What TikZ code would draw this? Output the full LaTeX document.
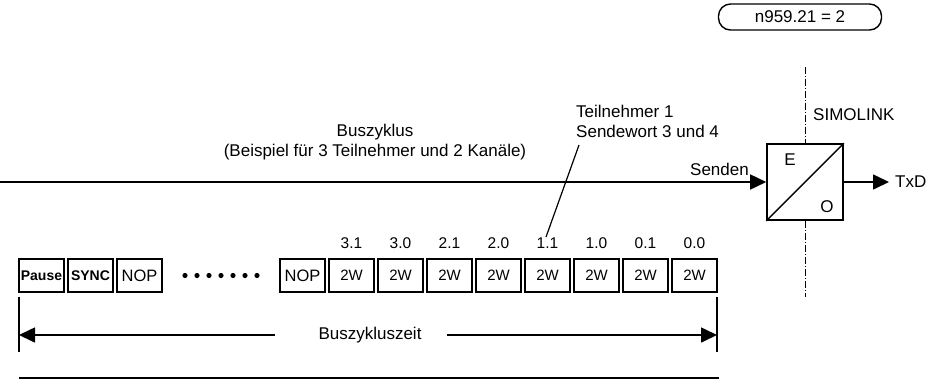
\documentclass[tikz,border=0pt]{standalone}
\usepackage{fontspec}
\setmainfont{Liberation Sans}
\usetikzlibrary{arrows.meta}
\begin{document}
\begin{tikzpicture}[x=1pt,y=-1pt,
  cell/.style={draw, line width=1.5pt, minimum width=45pt, minimum height=33pt, inner sep=0pt, font=\fontsize{15}{18}\selectfont},
  bcell/.style={cell, font=\fontsize{14}{17}\selectfont\bfseries},
  lbl/.style={font=\fontsize{17}{20}\selectfont, inner sep=0pt},
  slbl/.style={font=\fontsize{15.5}{18}\selectfont, inner sep=0pt},
  tip/.style={-{Triangle[length=16pt,width=15pt]}},
  thick line/.style={line width=1.6pt},
  dotted axis/.style={line width=0.8pt, dash pattern=on 7pt off 2pt on 1pt off 2pt}]
\useasboundingbox (0,0) rectangle (933,381);

% parameter box
\node[draw, line width=1.4pt, rounded corners=12pt, minimum width=163pt, minimum height=26pt, lbl] (par) at (800,17) {n959.21 = 2};

% SIMOLINK converter
\node[draw, line width=1.6pt, minimum size=76pt, inner sep=0pt] (conv) at (805,182) {};
\draw[line width=1.4pt] (conv.south west) -- (conv.north east);
\node[lbl] (E) at (790,160) {E};
\node[lbl] (O) at (827,207) {O};
\coordinate (axtop) at (805,67);
\coordinate (axbot) at (805,297);
\draw[dotted axis] (axtop) -- (conv.north);
\draw[dotted axis] (conv.south) -- (axbot);
\node[lbl, anchor=west] (simo) at (813,115) {SIMOLINK};

% main line
\coordinate (start) at (0,182);
\draw[thick line, tip] (start) -- (conv.west);
\node[lbl, anchor=east] (senden) at (749,169) {Senden};
\coordinate (txd end) at (889,182);
\draw[thick line, tip] (conv.east) -- (txd end);
\node[lbl, anchor=west] (txd) at (895,182) {TxD};

% texts
\node[lbl, align=center] (bus) at (375,142) {Buszyklus\\(Beispiel für 3 Teilnehmer und 2 Kanäle)};
\node[lbl, align=left, anchor=west] (teil) at (576,121) {Teilnehmer 1\\Sendewort 3 und 4};
\coordinate (ptop) at (579,145);
\coordinate (pbot) at (546,237);
\draw[line width=1.2pt] (ptop) -- (pbot);

% cells
\node[bcell] (pause) at (41.5,275.5) {Pause};
\node[bcell] (sync) at (90.5,275.5) {SYNC};
\node[cell, font=\fontsize{16.5}{19}\selectfont] (nop1) at (139.5,275.5) {NOP};
\foreach \i in {0,...,6} {
  \fill (185+12*\i,275.5) circle (2.6pt);
}
\node[cell, font=\fontsize{16.5}{19}\selectfont] (nop2) at (302.5,275.5) {NOP};
\foreach \l [count=\i from 0] in {3.1,3.0,2.1,2.0,1.1,1.0,0.1,0.0} {
  \node[cell] (w\i) at (351.5+49*\i,275.5) {2W};
  \node[slbl] (l\i) at (351.5+49*\i,243) {\l};
}

% Buszykluszeit
\coordinate (tl1) at (19,297);
\coordinate (tl2) at (19,352);
\coordinate (tr1) at (717,297);
\coordinate (tr2) at (717,352);
\draw[line width=1.4pt] (tl1) -- (tl2);
\draw[line width=1.4pt] (tr1) -- (tr2);
\node[lbl] (bzt) at (370,335) {Buszykluszeit};
\coordinate (al) at (19,335);
\coordinate (ar) at (717,335);
\coordinate (alx) at (275,335);
\coordinate (arx) at (447,335);
\draw[thick line, tip] (alx) -- (al);
\draw[thick line, tip] (arx) -- (ar);

% bottom line
\coordinate (b1) at (19,378);
\coordinate (b2) at (719,378);
\draw[line width=2pt] (b1) -- (b2);
\end{tikzpicture}
\end{document}
